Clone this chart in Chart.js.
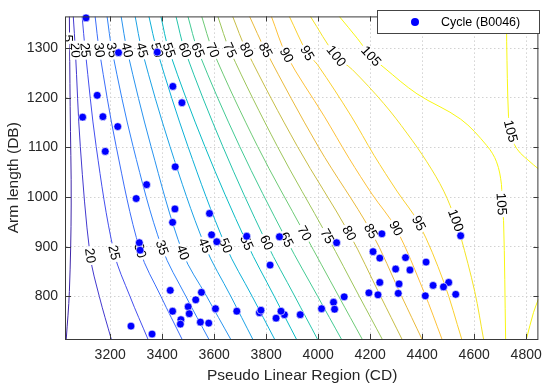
<!DOCTYPE html>
<html>
<head>
<meta charset="utf-8">
<script src="https://cdn.jsdelivr.net/npm/chart.js@4.4.1/dist/chart.umd.min.js"></script>
<style>
  body { margin: 0; background: #fff; }
</style>
</head>
<body>
<canvas id="myChart" width="550" height="390"></canvas>
<script>
const xTicks = [3200, 3400, 3600, 3800, 4000, 4200, 4400, 4600, 4800];
const yTicks = [800, 900, 1000, 1100, 1200, 1300];
const xRange = [3030, 4847];
const yRange = [714, 1364];

// measured cycles
const cycleX = [3107, 3232, 3381, 3441, 3476, 3150, 3094, 3172, 3229, 3181, 3450, 3340, 3300,
  3449, 3440, 3582, 3590, 3610, 3312, 3315, 3725, 3815, 3431, 3551, 3529, 3500, 3440, 3605,
  3687, 3774, 3780, 3504, 3472, 3470, 3547, 3579, 3280, 3361, 3838, 3851, 4071, 4245, 4548,
  4211, 4237, 4336, 4415, 4298, 4353, 4237, 4311, 4442, 4502, 4482, 4195, 4230, 4308, 4412,
  4529, 4100, 4059, 4063, 4013, 3931, 3870, 3857];
const cycleY = [1361, 1291, 1292, 1223, 1190, 1205, 1161, 1162, 1142, 1092, 1061, 1025, 997,
  976, 949, 967, 924, 910, 908, 893, 921, 863, 812, 808, 793, 779, 770, 775,
  770, 767, 772, 765, 753, 744, 748, 746, 740, 724, 756, 920, 908, 926, 922,
  890, 877, 878, 869, 855, 853, 828, 825, 822, 828, 819, 807, 803, 806, 801,
  804, 799, 788, 774, 775, 763, 763, 770];

// contour lines
const c15 = [[3043, 1364], [3046, 1182], [3050, 986], [3043, 810], [3031, 714]];
const c20 = [[3058, 1364], [3066, 1296], [3085, 1102], [3123, 882], [3158, 800], [3204, 714]];
const c25 = [[3092, 1364], [3104, 1296], [3146, 1102], [3215, 888], [3276, 800], [3345, 714]];
const c30 = [[3142, 1364], [3158, 1296], [3223, 1102], [3315, 892], [3395, 800], [3476, 714]];
const c35 = [[3188, 1364], [3207, 1296], [3288, 1102], [3399, 898], [3491, 800], [3579, 714]];
const c40 = [[3242, 1364], [3265, 1296], [3357, 1102], [3479, 888], [3571, 800], [3663, 714]];
const c45 = [[3296, 1364], [3322, 1296], [3430, 1102], [3564, 902], [3664, 800], [3748, 714]];
const c50 = [[3349, 1364], [3380, 1296], [3499, 1102], [3644, 902], [3746, 800], [3832, 714]];
const c55 = [[3395, 1364], [3426, 1296], [3564, 1102], [3725, 908], [3831, 800], [3916, 714]];
const c60 = [[3453, 1364], [3487, 1296], [3633, 1102], [3801, 908], [3910, 800], [3997, 714]];
const c65 = [[3499, 1364], [3537, 1296], [3698, 1102], [3878, 914], [3998, 800], [4089, 714]];
const c70 = [[3552, 1364], [3594, 1296], [3767, 1102], [3947, 927], [4079, 800], [4169, 714]];
const c75 = [[3614, 1364], [3660, 1296], [3843, 1102], [4035, 921], [4158, 800], [4246, 714]];
const c80 = [[3671, 1364], [3724, 1296], [3920, 1102], [4119, 927], [4240, 800], [4322, 714]];
const c85 = [[3736, 1364], [3797, 1296], [4000, 1102], [4203, 931], [4321, 800], [4399, 714]];
const c90 = [[3820, 1364], [3878, 1286], [4023, 1163], [4119, 1078], [4207, 1006], [4299, 937],
  [4406, 810], [4476, 714]];
const c95 = [[3889, 1364], [3958, 1290], [3997, 1267], [4127, 1163], [4215, 1084], [4303, 1012],
  [4387, 947], [4483, 829], [4552, 714]];
const c100 = [[3970, 1364], [4069, 1284], [4131, 1257], [4253, 1188], [4341, 1129], [4418, 1071],
  [4483, 1012], [4529, 953], [4548, 921], [4602, 810], [4636, 714]];
const c105a = [[4081, 1364], [4150, 1320], [4203, 1284], [4253, 1261], [4380, 1208], [4548, 1157],
  [4648, 1104], [4686, 1071], [4705, 1025], [4705, 986], [4713, 953], [4721, 714]];
const c105b = [[4725, 1364], [4725, 1314], [4732, 1163], [4740, 1133], [4763, 1098], [4828, 1065],
  [4847, 1057]];
const c105c = [[4801, 714], [4828, 767], [4847, 794]];

const contourLines = [[15, c15], [20, c20], [25, c25], [30, c30], [35, c35], [40, c40], [45, c45],
  [50, c50], [55, c55], [60, c60], [65, c65], [70, c70], [75, c75], [80, c80], [85, c85],
  [90, c90], [95, c95], [100, c100], [105, c105a], [105, c105b], [105, c105c]];

// inline contour labels
const labelLevels = [5, 20, 25, 30, 35, 40, 45, 50, 55, 60, 65, 70, 75, 80, 85, 90, 95, 100, 105,
  20, 25, 30, 35, 40, 45, 50, 55, 60, 65, 70, 75, 80, 85, 90, 95, 100, 105, 105];
const labelX = [3037, 3066, 3104, 3158, 3207, 3265, 3322, 3380, 3426, 3487, 3537, 3594, 3660, 3724,
  3797, 3878, 3958, 4069, 4203,
  3123, 3215, 3315, 3399, 3479, 3564, 3644, 3725, 3801, 3878, 3947, 4035, 4119, 4203, 4299, 4387,
  4529, 4705, 4740];
const labelY = [1320, 1296, 1296, 1296, 1296, 1296, 1296, 1296, 1296, 1296, 1296, 1296, 1296, 1296,
  1296, 1286, 1290, 1284, 1284,
  882, 888, 892, 898, 888, 902, 902, 908, 908, 914, 927, 921, 927, 931, 937, 947,
  953, 986, 1133];

const FONT = '"Liberation Sans", Arial, Helvetica, sans-serif';

const parulaStops = [
  [0.000, 62, 38, 168], [0.095, 71, 71, 235], [0.190, 54, 123, 254], [0.300, 36, 154, 234],
  [0.365, 16, 172, 222], [0.430, 5, 185, 200], [0.490, 35, 195, 173], [0.560, 71, 203, 143],
  [0.620, 122, 202, 109], [0.680, 176, 194, 80], [0.746, 221, 185, 60], [0.810, 253, 189, 61],
  [0.873, 251, 206, 48], [0.937, 244, 229, 38], [1.000, 249, 251, 14]
];

const parula = t => {
  t = Math.max(0, Math.min(1, t));
  for (let i = 1; i < parulaStops.length; i++) {
    const a = parulaStops[i - 1], b = parulaStops[i];
    if (t <= b[0]) {
      const f = (t - a[0]) / (b[0] - a[0]);
      const c = [1, 2, 3].map(k => Math.round(a[k] + (b[k] - a[k]) * f));
      return `rgb(${c[0]},${c[1]},${c[2]})`;
    }
  }
  return 'rgb(249,251,14)';
};
const levelColor = lvl => parula((lvl - 15) / 91);

const labelAngle = (chart, lvl, px, py) => {
  const xs = chart.scales.x, ys = chart.scales.y;
  let best = null, bestD = Infinity;
  contourLines.forEach(([l, pts]) => {
    if (l !== lvl) return;
    const pix = pts.map(p => [xs.getPixelForValue(p[0]), ys.getPixelForValue(p[1])]);
    pix.forEach((p, i) => {
      const d = Math.hypot(p[0] - px, p[1] - py);
      if (d < bestD) { bestD = d; best = { pix, i }; }
    });
  });
  if (!best || bestD > 15) return Math.PI / 2;
  const a = best.pix[Math.max(0, best.i - 1)], b = best.pix[Math.min(best.pix.length - 1, best.i + 1)];
  let dx = b[0] - a[0], dy = b[1] - a[1];
  if (dy < 0) { dx = -dx; dy = -dy; }
  return Math.atan2(dy, dx);
};

const contourExtras = {
  id: 'contourExtras',
  beforeDatasetDraw(chart, args) {
    if (args.index !== 0) return;
    const ctx = chart.ctx, xs = chart.scales.x, ys = chart.scales.y, area = chart.chartArea;
    ctx.save();
    ctx.beginPath();
    ctx.rect(area.left, area.top, area.right - area.left, area.bottom - area.top);
    ctx.clip();
    ctx.font = '13.5px ' + FONT;
    ctx.textAlign = 'center';
    ctx.textBaseline = 'middle';
    labelLevels.forEach((lvl, i) => {
      const px = xs.getPixelForValue(labelX[i]);
      const py = ys.getPixelForValue(labelY[i]);
      const ang = labelAngle(chart, lvl, px, py);
      const txt = String(lvl);
      const w = ctx.measureText(txt).width;
      ctx.save();
      ctx.translate(px, py);
      ctx.rotate(ang);
      ctx.fillStyle = '#fff';
      ctx.fillRect(-w / 2 - 2, -5.5, w + 4, 11);
      ctx.fillStyle = '#000';
      ctx.fillText(txt, 0, 0.5);
      ctx.restore();
    });
    ctx.restore();
  },
  afterDraw(chart) {
    const ctx = chart.ctx, xs = chart.scales.x, ys = chart.scales.y, a = chart.chartArea;
    ctx.save();
    // box and inner ticks
    ctx.strokeStyle = '#3a3a3a';
    ctx.lineWidth = 1;
    ctx.strokeRect(a.left - 0.5, a.top + 0.5, a.right - a.left, a.bottom - a.top);
    ctx.beginPath();
    xTicks.forEach(v => {
      const x = Math.round(xs.getPixelForValue(v)) + 0.5;
      ctx.moveTo(x, a.bottom); ctx.lineTo(x, a.bottom - 5);
      ctx.moveTo(x, a.top); ctx.lineTo(x, a.top + 5);
    });
    yTicks.forEach(v => {
      const y = Math.round(ys.getPixelForValue(v)) + 0.5;
      ctx.moveTo(a.left, y); ctx.lineTo(a.left + 5, y);
      ctx.moveTo(a.right, y); ctx.lineTo(a.right - 5, y);
    });
    ctx.stroke();

    // axis titles
    ctx.fillStyle = '#262626';
    ctx.font = '15.5px ' + FONT;
    ctx.textAlign = 'center';
    ctx.textBaseline = 'middle';
    ctx.fillText('Pseudo Linear Region (CD)', (a.left + a.right) / 2, 376);
    ctx.save();
    ctx.translate(14, (a.top + a.bottom) / 2);
    ctx.rotate(-Math.PI / 2);
    ctx.fillText('Arm length (DB)', 0, 0);
    ctx.restore();

    // legend
    ctx.fillStyle = '#fff';
    ctx.fillRect(377.5, 10.5, 162, 23);
    ctx.strokeStyle = '#444';
    ctx.strokeRect(377.5, 10.5, 162, 23);
    ctx.fillStyle = '#0000ff';
    ctx.beginPath();
    ctx.arc(415, 22, 4, 0, Math.PI * 2);
    ctx.fill();
    ctx.fillStyle = '#000';
    ctx.font = '12.5px ' + FONT;
    ctx.textAlign = 'left';
    ctx.fillText(chart.data.datasets[0].label, 441, 22.5);
    ctx.restore();
  }
};

const contourSets = contourLines.map(([lvl, pts]) => ({
  label: 'c' + lvl,
  data: pts.map(p => ({ x: p[0], y: p[1] })),
  showLine: true,
  borderColor: levelColor(lvl),
  borderWidth: 1,
  pointRadius: 0,
  tension: 0.35,
  fill: false
}));

const ctx = document.getElementById('myChart').getContext('2d');
const myChart = new Chart(ctx, {
  type: 'scatter',
  data: {
    datasets: [{
      label: 'Cycle (B0046)',
      data: cycleX.map((x, i) => ({ x: x, y: cycleY[i] })),
      backgroundColor: '#0000ff',
      borderColor: '#ffffff',
      borderWidth: 0.6,
      pointRadius: 3.9,
      clip: false
    }, ...contourSets]
  },
  options: {
    responsive: false,
    animation: false,
    devicePixelRatio: 1,
    events: [],
    layout: { padding: { top: 7, right: 10, left: 0, bottom: 0 } },
    plugins: { legend: { display: false }, tooltip: { enabled: false } },
    scales: {
      x: {
        type: 'linear',
        min: xRange[0],
        max: xRange[1],
        afterBuildTicks: s => { s.ticks = xTicks.map(v => ({ value: v })); },
        afterFit: s => { s.height = 51; },
        grid: { color: '#d2d2d2', drawTicks: false, lineWidth: 1 },
        border: { display: false, dash: [1.5, 2.5] },
        ticks: { color: '#262626', font: { family: FONT, size: 14 }, padding: 8,
          maxRotation: 0, autoSkip: false, callback: v => String(v) }
      },
      y: {
        type: 'linear',
        min: yRange[0],
        max: yRange[1],
        afterBuildTicks: s => { s.ticks = yTicks.map(v => ({ value: v })); },
        afterFit: s => { s.width = 66; },
        grid: { color: '#d2d2d2', drawTicks: false, lineWidth: 1 },
        border: { display: false, dash: [1.5, 2.5] },
        ticks: { color: '#262626', font: { family: FONT, size: 14 }, padding: 8,
          autoSkip: false, callback: v => String(v) }
      }
    }
  },
  plugins: [contourExtras]
});
</script>
</body>
</html>
